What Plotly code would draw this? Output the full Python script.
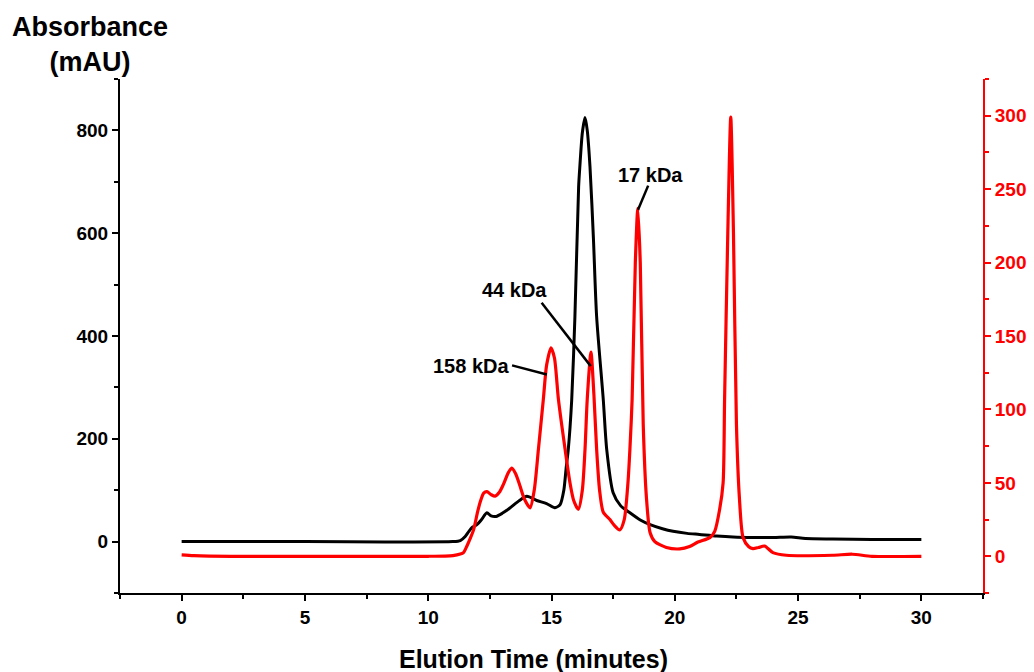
import plotly.graph_objects as go

# ---- data ----
black_t = [0, 5, 11.0, 11.3, 11.5, 11.65, 11.77, 11.95, 12.15, 12.38, 12.55, 12.75, 13.0, 13.3, 13.7,
           14.0, 14.4, 14.8, 15.14, 15.35, 15.5, 15.6, 15.68, 15.82, 15.95, 16.1, 16.15, 16.25, 16.36,
           16.45, 16.56, 16.7, 16.83, 17.1, 17.24, 17.5, 17.8, 18.18, 18.6, 19.0, 19.5, 19.93, 20.5,
           21.0, 21.7, 22.36, 23.17, 24.0, 24.72, 25.3, 26.4, 28.0, 30.0]
black_v = [0, 0, 0, 2, 10, 20, 27, 32, 42, 56, 50, 49, 55, 65, 80,
           88, 80, 74, 66, 72, 100, 146, 179, 276, 438, 690, 730, 795, 825,
           800, 730, 590, 438, 276, 179, 95, 70, 56, 42, 33, 25, 20, 16,
           14, 11, 9, 8, 8, 9, 6, 5, 4, 4]

red_t = [0, 0.5, 2, 5, 8, 10, 11.0, 11.3, 11.43, 11.57, 11.7, 11.84, 12.0, 12.1, 12.25, 12.38,
         12.55, 12.71, 12.9, 13.05, 13.25, 13.39, 13.55, 13.72, 13.9, 14.13, 14.3, 14.47, 14.67,
         14.8, 14.98, 15.12, 15.28, 15.55, 15.75, 15.9, 16.09, 16.25, 16.36, 16.45, 16.6, 16.72,
         16.83, 16.95, 17.1, 17.37, 17.55, 17.77, 17.95, 18.1, 18.18, 18.27, 18.4, 18.5, 18.6,
         18.72, 18.85, 19.0, 19.19, 19.66, 20.2, 20.6, 20.94, 21.42, 21.62, 21.82, 21.96, 22.02,
         22.15, 22.27, 22.38, 22.5, 22.62, 22.77, 23.0, 23.17, 23.4, 23.64, 23.98, 24.52, 26.4,
         27.2, 28.0, 30.0]
red_v = [1.0, 0.5, 0, 0, 0, 0, 0.5, 1.5, 2.5, 7, 12, 18, 30, 36.5, 43, 44,
         42, 41, 44, 49, 57, 60, 56, 48, 39, 33, 45, 73, 107,
         130, 142, 135, 107, 73, 50, 38, 32, 45, 73, 107, 139, 110,
         73, 45, 30, 25, 21, 18, 25, 50, 73, 107, 200, 237, 200,
         90, 40, 16, 10, 6, 5, 6.6, 9.7, 12.7, 17, 32, 50, 107,
         220, 299, 220, 90, 40, 12.7, 6.5, 5.2, 6, 7, 2.5, 0.7, 0.7,
         1.4, 0, 0]

x_ticks = [0, 5, 10, 15, 20, 25, 30]
left_ticks = [0, 200, 400, 600, 800]
right_ticks = [0, 50, 100, 150, 200, 250, 300]

# label text, label position, leader line start / end (x, right-axis units)
labels = [
    ("158 kDa", 11.74, 129.3, 13.40, 130.0, 14.81, 123.8),
    ("44 kDa", 13.48, 181.6, 14.60, 172.6, 16.59, 129.5),
    ("17 kDa", 19.03, 259.9, 18.92, 252.4, 18.51, 236.0),
]

FONT = "Arial, 'Liberation Sans', sans-serif"

fig = go.Figure()
fig.add_trace(go.Scatter(x=black_t, y=black_v, mode="lines",
                         line=dict(color="#000000", width=3, shape="spline", smoothing=0.7),
                         yaxis="y", showlegend=False, hoverinfo="skip"))
fig.add_trace(go.Scatter(x=red_t, y=red_v, mode="lines",
                         line=dict(color="#ff0000", width=3.2, shape="spline", smoothing=0.7),
                         yaxis="y2", showlegend=False, hoverinfo="skip"))

annotations = []
shapes = []
for text, tx, ty, x0, y0, x1, y1 in labels:
    annotations.append(dict(x=tx, y=ty, xref="x", yref="y2", text=text, showarrow=False,
                            font=dict(family=FONT, size=20, color="black", weight="bold"),
                            xanchor="center", yanchor="middle"))
    shapes.append(dict(type="line", xref="x", yref="y2", x0=x0, y0=y0, x1=x1, y1=y1,
                       line=dict(color="black", width=2.5)))

annotations.append(dict(x=-0.035, y=1.068, xref="paper", yref="paper",
                        text="Absorbance<br>(mAU)", showarrow=False,
                        font=dict(family=FONT, size=27, color="black", weight="bold"),
                        xanchor="center", yanchor="middle", align="center"))
annotations.append(dict(x=0.4786, y=-0.128, xref="paper", yref="paper",
                        text="Elution Time (minutes)", showarrow=False,
                        font=dict(family=FONT, size=25, color="black", weight="bold"),
                        xanchor="center", yanchor="middle"))

tickfont_black = dict(family=FONT, size=19, color="black", weight="bold")
tickfont_red = dict(family=FONT, size=19, color="#ff0000", weight="bold")

fig.update_layout(
    width=1034, height=672,
    margin=dict(l=120, r=51, t=79, b=79, pad=0, autoexpand=False),
    plot_bgcolor="white", paper_bgcolor="white",
    xaxis=dict(range=[-2.5, 32.5], tickvals=x_ticks, showline=True, linecolor="black",
               linewidth=2, ticks="outside", ticklen=6, tickwidth=2, tickcolor="black",
               minor=dict(ticks="outside", ticklen=4, tickwidth=2, dtick=2.5, tick0=0,
                          tickcolor="black"),
               showgrid=False, zeroline=False, tickfont=tickfont_black, automargin=False),
    yaxis=dict(range=[-100, 900], tickvals=left_ticks, showline=True, linecolor="black",
               linewidth=2, ticks="outside", ticklen=6, tickwidth=2, tickcolor="black",
               minor=dict(ticks="outside", ticklen=4, tickwidth=2, dtick=100, tick0=0,
                          tickcolor="black"),
               showgrid=False, zeroline=False, tickfont=tickfont_black, automargin=False),
    yaxis2=dict(range=[-25, 325], tickvals=right_ticks, overlaying="y", side="right",
                showline=True, linecolor="#ff0000", linewidth=2, ticks="outside", ticklen=6,
                tickwidth=2, tickcolor="#ff0000",
                minor=dict(ticks="outside", ticklen=4, tickwidth=2, dtick=25, tick0=0,
                           tickcolor="#ff0000"),
                showgrid=False, zeroline=False, tickfont=tickfont_red, automargin=False),
    annotations=annotations,
    shapes=shapes,
)

fig.write_html("out.html")
